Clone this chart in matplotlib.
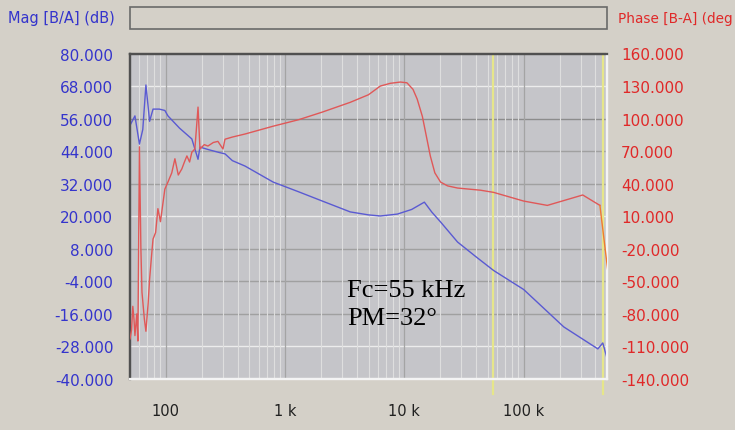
import matplotlib.pyplot as plt
from matplotlib.patches import Rectangle

mag_freq = [50, 55, 60, 64, 68, 73, 78, 88, 98, 104, 130, 165, 186, 193, 230, 280, 313, 361,
            461, 793, 1300, 2050, 3515, 5000, 6280, 8730, 11500, 14700, 17000, 20100, 27900,
            40000, 56000, 100000, 217000, 419000, 461000, 508000]
mag_db = [53.5, 57.0, 46.6, 52.0, 68.4, 55.0, 59.5, 59.5, 59.0, 57.0, 52.5, 48.5, 41.0, 45.5,
          44.5, 43.5, 43.0, 40.5, 38.5, 32.6, 29.0, 25.6, 21.6, 20.5, 20.1, 20.8, 22.5, 25.2,
          21.5, 17.9, 10.5, 5.0, 0.0, -7.0, -20.8, -28.9, -26.7, -33.4]

ph_freq = [50, 51.5, 52.8, 54, 55, 57, 58.2, 60, 61.7, 63, 66, 68, 71, 73, 76, 78, 82, 85.7,
           90, 98, 104, 112, 119, 127, 136, 143, 150, 158, 165, 175, 186, 193, 210, 225, 250,
           273, 301, 313, 361, 461, 793, 1300, 2050, 3515, 5000, 6280, 7600, 9250, 10500,
           11800, 12800, 14150, 15200, 16500, 18000, 20100, 23000, 27900, 43500, 56000,
           100000, 158000, 313000, 436000, 461000, 508000]
ph_deg = [-103, -95, -73, -85, -100, -80, -105, 74, -20, -60, -85, -96, -70, -48, -25, -11,
          -5, 17, 5, 35, 41.5, 50, 63, 48, 53.6, 60, 65.6, 60, 69, 72, 110.6, 72, 76, 74.7,
          78, 79, 72, 81, 83, 85.8, 93, 99, 106, 115, 122, 130, 132.5, 133.7, 133, 127, 118,
          102, 85, 65.5, 50, 41.5, 38, 36, 34, 32, 24, 20, 29.6, 20, -2, -40.6]

mag_ticks = [80, 68, 56, 44, 32, 20, 8, -4, -16, -28, -40]
ph_ticks = [160, 130, 100, 70, 40, 10, -20, -50, -80, -110, -140]
x_ticks = [100, 1000, 10000, 100000]
x_labels = ["100", "1 k", "10 k", "100 k"]
light_rows = [68, 20, -28]
markers = [55000, 460000]

bg = "#d4d0c8"
fig = plt.figure(figsize=(7.35, 4.31), dpi=100, facecolor=bg)
ax = fig.add_axes([130 / 735, 1 - 380 / 431, 477 / 735, 325.5 / 431])
ax.set_facecolor("#c5c5c9")
ax.set_xscale("log")
ax.set_xlim(50, 500000)
ax.set_ylim(-40, 80)

# grid
ax.grid(True, which="minor", axis="x", color="#dedede", lw=0.8)
ax.grid(True, which="major", axis="x", color="#a4a4a4", lw=0.9)
for v in mag_ticks[1:-1]:
    c = "#ececec" if v in light_rows else ("#8c8c8c" if v == 56 else "#a0a0a0")
    ax.axhline(v, color=c, lw=1.0, zorder=1)
for m in markers:
    ax.axvline(m, ymin=-0.045, ymax=1, color="#e6e68a", lw=1.6, clip_on=False, zorder=2)

ax.plot(mag_freq, mag_db, color="#5a5ad2", lw=1.0, zorder=4)

ax.set_xticks(x_ticks)
ax.set_xticklabels(x_labels)
ax.tick_params(axis="x", which="both", length=0, pad=17, labelsize=10.5, labelcolor="#202020")
ax.set_yticks(mag_ticks)
ax.set_yticklabels([f"{v:.3f}" for v in mag_ticks])
ax.tick_params(axis="y", length=0, pad=12, labelsize=11, labelcolor="#3434cc")

ax2 = ax.twinx()
ax2.set_ylim(-140, 160)
ax2.plot(ph_freq[:-2], ph_deg[:-2], color="#e05858", lw=1.0, zorder=3)
ax2.plot(ph_freq[-3:], ph_deg[-3:], color="#f07a30", lw=1.0, zorder=3)
ax2.set_yticks(ph_ticks)
ax2.set_yticklabels([f"{v:.3f}" for v in ph_ticks])
ax2.tick_params(axis="y", length=0, pad=10, labelsize=11, labelcolor="#e02828")

for a in (ax, ax2):
    for side, col in (("left", "#505050"), ("top", "#505050"),
                      ("right", "#f4f4f4"), ("bottom", "#f4f4f4")):
        a.spines[side].set_color(col)
        a.spines[side].set_linewidth(1.6)

ax.text(3320, -9.4, "Fc=55 kHz", family="Liberation Serif", fontsize=19, va="baseline", zorder=6)
ax.text(3320, -19.7, "PM=32°", family="Liberation Serif", fontsize=19, va="baseline", zorder=6)

# header strip
fig.patches.append(Rectangle((130 / 735, 1 - 30 / 431), 477 / 735, 22 / 431,
                             transform=fig.transFigure, facecolor=bg, edgecolor="#6a6a6a", lw=1.2))
fig.text(8 / 735, 1 - 19 / 431, "Mag [B/A] (dB)", color="#3434cc", fontsize=10.5, va="center")
fig.text(618 / 735, 1 - 19 / 431, "Phase [B-A] (deg", color="#e02828", fontsize=9.8, va="center")

fig.savefig("out.png", dpi=100, facecolor=bg)
